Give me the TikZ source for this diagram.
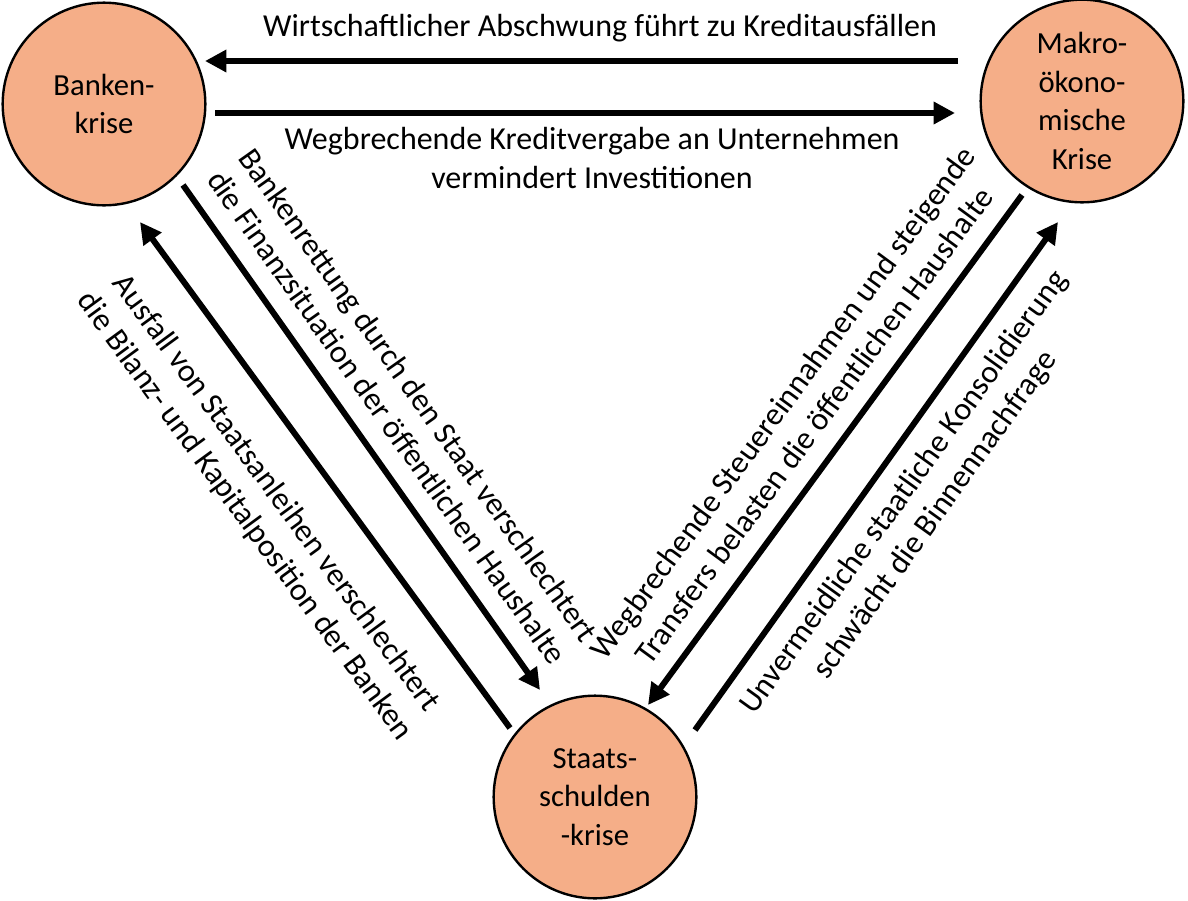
\documentclass[tikz,border=0pt]{standalone}
\usepackage{fontspec}
\setmainfont{Carlito}
\usetikzlibrary{arrows.meta}
\begin{document}
\begin{tikzpicture}[x=0.75pt,y=-0.75pt,
  crisis/.style={circle,draw,line width=1.8pt,fill=crisisfill,minimum size=152pt,inner sep=0pt,align=center,font=\fontsize{23}{29}\selectfont},
  conn/.style={line width=4.5pt,-{Triangle[length=16pt,width=16pt]}},
  lbl/.style={align=center,font=\fontsize{24}{29}\selectfont}]
\definecolor{crisisfill}{HTML}{F5AE88}
\useasboundingbox (0,0) rectangle (1188,900);
\node[crisis] (bank) at (104,104) {Banken-\\krise};
\node[crisis] (makro) at (1082,101) {Makro-\\ökono-\\mische\\Krise};
\node[crisis] (staat) at (595,797) {Staats-\\schulden\\-krise};
\coordinate (a1) at (958,61); \coordinate (a2) at (205,61);
\coordinate (b1) at (215,113); \coordinate (b2) at (955,113);
\coordinate (c1) at (183,185); \coordinate (c2) at (540,690);
\coordinate (d1) at (510,728); \coordinate (d2) at (140,222);
\coordinate (e1) at (1022,195); \coordinate (e2) at (648,705);
\coordinate (f1) at (695,730); \coordinate (f2) at (1058,222);
\draw[conn] (a1) -- (a2);
\draw[conn] (b1) -- (b2);
\draw[conn] (c1) -- (c2);
\draw[conn] (d1) -- (d2);
\draw[conn] (e1) -- (e2);
\draw[conn] (f1) -- (f2);
\node[lbl] (t1) at (600,28) {Wirtschaftlicher Abschwung führt zu Kreditausfällen};
\node[lbl] (t2) at (592,158) {Wegbrechende Kreditvergabe an Unternehmen\\vermindert Investitionen};
\node[lbl,rotate=-54.7] (t3) at (403,406) {Bankenrettung durch den Staat verschlechtert\\die Finanzsituation der öffentlichen Haushalte};
\node[lbl,rotate=-53.8] (t4) at (260,505) {Ausfall von Staatsanleihen verschlechtert\\die Bilanz- und Kapitalposition der Banken};
\node[lbl,rotate=53.7] (t5) at (798,414) {Wegbrechende Steuereinnahmen und steigende\\Transfers belasten die öffentlichen Haushalte};
\node[lbl,rotate=54.3] (t6) at (920,504) {Unvermeidliche staatliche Konsolidierung\\schwächt die Binnennachfrage};
\end{tikzpicture}
\end{document}
